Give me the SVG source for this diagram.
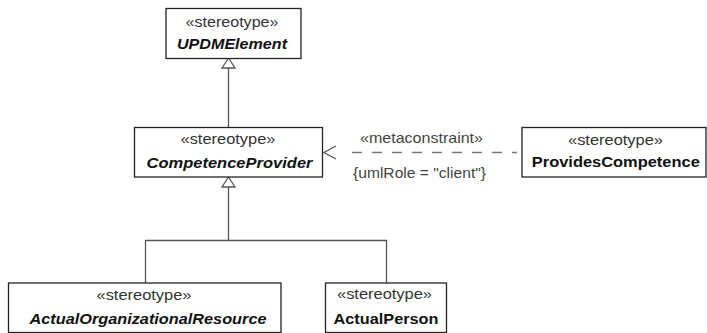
<svg xmlns="http://www.w3.org/2000/svg" width="707" height="333" viewBox="0 0 707 333">
<style>
.box{fill:#fff;stroke:#222;stroke-width:1.3}
.st{font-family:"Liberation Sans",Arial,sans-serif;font-size:14.5px;fill:#333;text-anchor:middle}
.nm{font-family:"Liberation Sans",Arial,sans-serif;font-size:14.5px;font-weight:bold;fill:#111;text-anchor:middle}
.it{font-style:italic}
.edge{fill:none;stroke:#555;stroke-width:1.3}
.dash{fill:none;stroke:#777;stroke-width:1.3;stroke-dasharray:10,10}
.tri{fill:#fff;stroke:#555;stroke-width:1.3}
.lbl{font-family:"Liberation Sans",Arial,sans-serif;font-size:14.5px;fill:#444;text-anchor:middle}
</style>
<rect width="707" height="333" fill="#fff"/>
<g id="connectors">
<line class="edge" x1="228.5" y1="68" x2="228.5" y2="127"/>
<polygon class="tri" points="228.5,58 222,68 235,68"/>
<path class="edge" d="M228.5 187 V240.5 M145.5 283 V240.5 H386.5 V283"/>
<polygon class="tri" points="228.5,177 222,187 235,187"/>
<line class="dash" x1="352" y1="152.5" x2="517" y2="152.5"/>
<path class="edge" d="M336 146 L324 152.5 L336 159" stroke="#777"/>
<text class="lbl" x="421.5" y="143" textLength="123" lengthAdjust="spacingAndGlyphs">«metaconstraint»</text>
<text class="lbl" x="419.5" y="178" textLength="133" lengthAdjust="spacingAndGlyphs">{umlRole = "client"}</text>
</g>
<g id="UPDMElement">
<rect class="box" x="166" y="8.5" width="135" height="50"/>
<text class="st" x="232" y="26.5" textLength="93" lengthAdjust="spacingAndGlyphs">«stereotype»</text>
<text class="nm it" x="232" y="48.5" textLength="110" lengthAdjust="spacingAndGlyphs">UPDMElement</text>
</g>
<g id="CompetenceProvider">
<rect class="box" x="134.5" y="127.5" width="188" height="49.5"/>
<text class="st" x="228" y="143.5" textLength="95" lengthAdjust="spacingAndGlyphs">«stereotype»</text>
<text class="nm it" x="229.5" y="168" textLength="166" lengthAdjust="spacingAndGlyphs">CompetenceProvider</text>
</g>
<g id="ProvidesCompetence">
<rect class="box" x="522" y="127.5" width="184" height="49.5"/>
<text class="st" x="615.5" y="144.5" textLength="95" lengthAdjust="spacingAndGlyphs">«stereotype»</text>
<text class="nm" x="615.8" y="167" textLength="168" lengthAdjust="spacingAndGlyphs">ProvidesCompetence</text>
</g>
<g id="ActualOrganizationalResource">
<rect class="box" x="8.5" y="283" width="272.5" height="49.5"/>
<text class="st" x="144" y="300" textLength="95" lengthAdjust="spacingAndGlyphs">«stereotype»</text>
<text class="nm it" x="148" y="323.5" textLength="237" lengthAdjust="spacingAndGlyphs">ActualOrganizationalResource</text>
</g>
<g id="ActualPerson">
<rect class="box" x="325.5" y="283" width="121" height="49.5"/>
<text class="st" x="384.5" y="298.5" textLength="95" lengthAdjust="spacingAndGlyphs">«stereotype»</text>
<text class="nm" x="386" y="323.5" textLength="105" lengthAdjust="spacingAndGlyphs">ActualPerson</text>
</g>
</svg>
